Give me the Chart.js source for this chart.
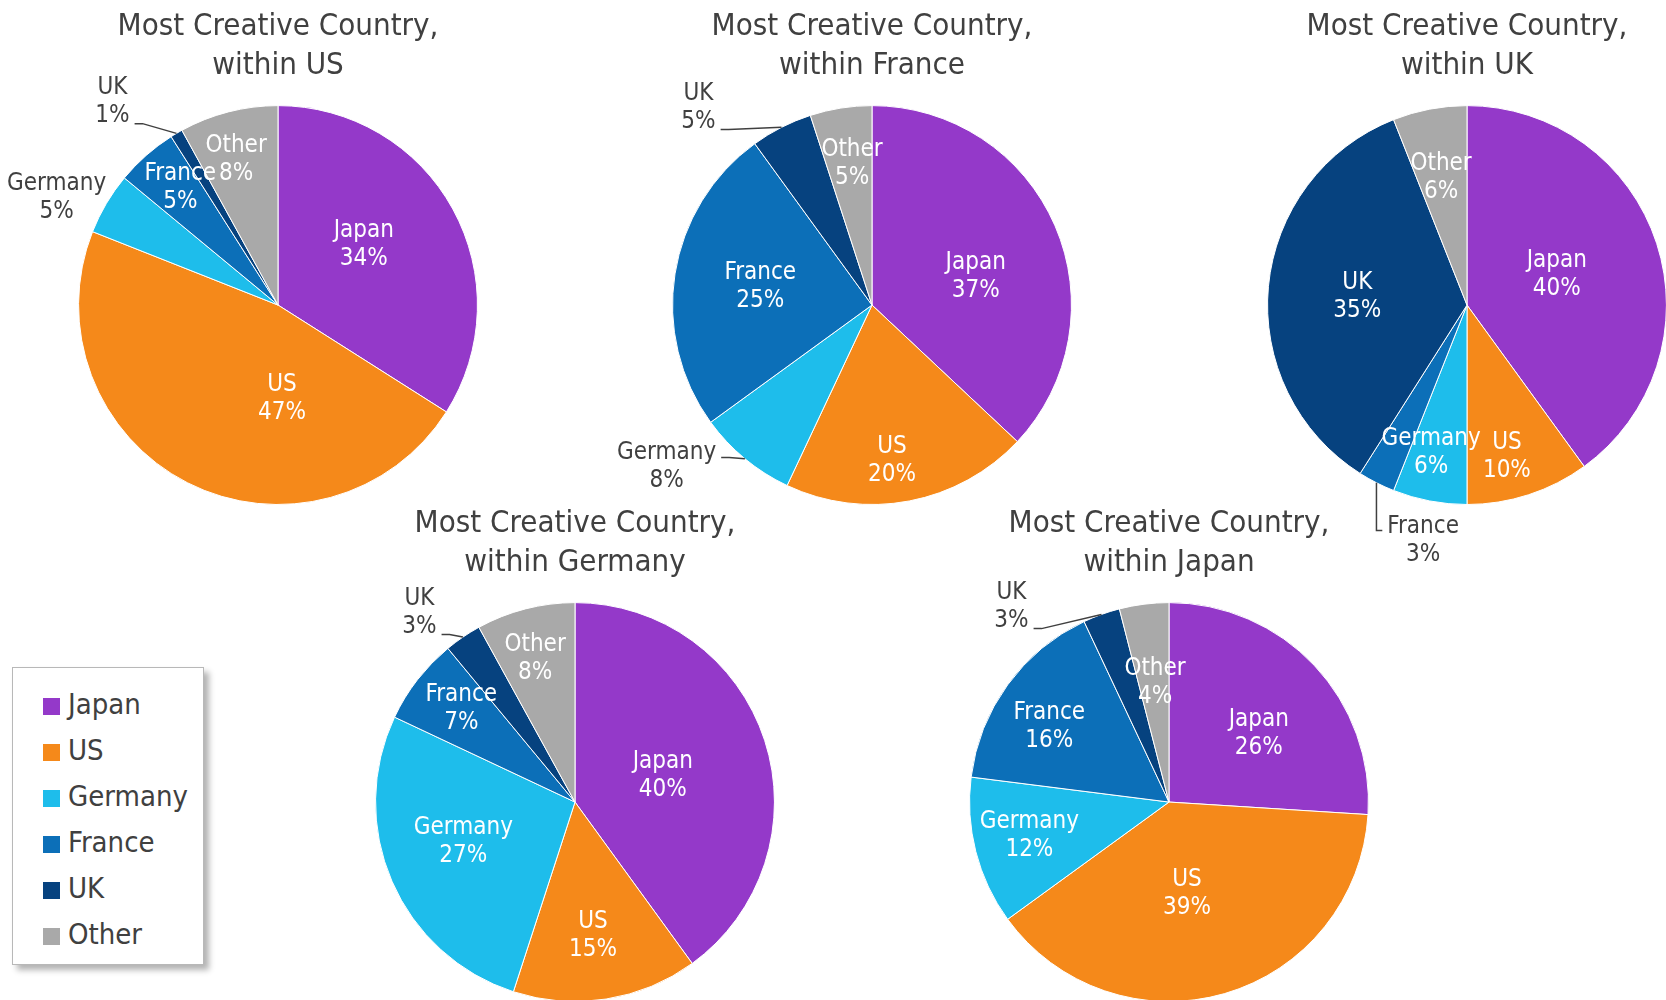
<!DOCTYPE html>
<html>
<head>
<meta charset="utf-8">
<script src="https://cdn.jsdelivr.net/npm/chart.js@4"></script>
<style>
  html, body { margin: 0; padding: 0; background: #fff; width: 1666px; height: 1000px; overflow: hidden; }
  .pie { position: absolute; }
  #legend {
    position: absolute; left: 12px; top: 667px; width: 192px; height: 298px;
    box-sizing: border-box; border: 1px solid #b8b8b8; background: #fff;
    box-shadow: 5px 5px 6px rgba(0, 0, 0, 0.3);
    font: 29px "DejaVu Sans Condensed", "DejaVu Sans", sans-serif; color: #404040;
  }
  .row { position: absolute; left: 30px; height: 46px; line-height: 46px; white-space: nowrap; }
  .row span { display: inline-block; width: 17px; height: 17px; margin-right: 8px; vertical-align: -1px; }
</style>
</head>
<body>
<canvas id="pieUS" class="pie" width="560" height="580" style="left:-2px;top:0px"></canvas>
<canvas id="pieFrance" class="pie" width="560" height="580" style="left:592px;top:0px"></canvas>
<canvas id="pieUK" class="pie" width="560" height="580" style="left:1187px;top:0px"></canvas>
<canvas id="pieGermany" class="pie" width="560" height="580" style="left:295px;top:497px"></canvas>
<canvas id="pieJapan" class="pie" width="560" height="580" style="left:889px;top:497px"></canvas>
<div id="legend"></div>
<script>
// answer categories, same order in every pie
const countries = ['Japan', 'US', 'Germany', 'France', 'UK', 'Other'];
const colors = ['#9439C9', '#F5891A', '#1EBDEB', '#0C6FB8', '#06427F', '#A9A9A9'];

// share of answers (%) among respondents of each country
const withinUS = [34, 47, 5, 5, 1, 8];
const withinFrance = [37, 20, 8, 25, 5, 5];
const withinUK = [40, 10, 6, 3, 35, 6];
const withinGermany = [40, 15, 27, 7, 3, 8];
const withinJapan = [26, 39, 12, 16, 3, 4];

const FONT = '"DejaVu Sans Condensed", "DejaVu Sans", sans-serif';

// label placement, offsets from pie centre in radii (copied from the excel layout)
const spotsUS = [[0.43, -0.30], [0.02, 0.47], [-1.11, -0.54], [-0.49, -0.59], [-0.83, -1.02], [-0.21, -0.73]];
const spotsFrance = [[0.52, -0.14], [0.10, 0.78], [-1.03, 0.81], [-0.56, -0.09], [-0.87, -0.99], [-0.10, -0.71]];
const spotsUK = [[0.45, -0.15], [0.20, 0.76], [-0.18, 0.74], [-0.22, 1.18], [-0.55, -0.04], [-0.13, -0.64]];
const spotsGermany = [[0.44, -0.13], [0.09, 0.67], [-0.56, 0.20], [-0.57, -0.47], [-0.78, -0.95], [-0.20, -0.72]];
const spotsJapan = [[0.45, -0.34], [0.09, 0.46], [-0.70, 0.17], [-0.60, -0.38], [-0.79, -0.98], [-0.07, -0.60]];

// labels sitting outside the pie: index -> leader line style ('' = no line)
const outsideUS = {2: '', 4: 'r2'};
const outsideFrance = {2: 'r1', 4: 'r2'};
const outsideUK = {3: 'l1'};
const outsideGermany = {4: 'r2'};
const outsideJapan = {4: 'r2'};

const sliceLabels = {
    id: 'sliceLabels',
    afterDatasetsDraw(chart, args, opts) {
        const ctx = chart.ctx;
        const meta = chart.getDatasetMeta(0);
        const values = chart.data.datasets[0].data;
        const lineH = 28;
        ctx.save();
        ctx.font = '24px ' + FONT;
        ctx.textAlign = 'center';
        ctx.textBaseline = 'middle';
        meta.data.forEach((arc, i) => {
            const p = arc.getProps(['x', 'y', 'outerRadius', 'startAngle', 'endAngle'], true);
            const lx = p.x + opts.spots[i][0] * p.outerRadius;
            const ly = p.y + opts.spots[i][1] * p.outerRadius;
            const line1 = chart.data.labels[i];
            const line2 = values[i] + '%';
            const y1 = ly - lineH / 2, y2 = ly + lineH / 2;
            const lead = opts.outside[i];
            ctx.fillStyle = lead === undefined ? '#ffffff' : '#404040';
            ctx.fillText(line1, lx, y1);
            ctx.fillText(line2, lx, y2);
            if (!lead) return;

            // leader line from the label to the middle of the slice edge
            const mid = (p.startAngle + p.endAngle) / 2;
            const ex = p.x + Math.cos(mid) * p.outerRadius;
            const ey = p.y + Math.sin(mid) * p.outerRadius;
            ctx.strokeStyle = '#404040';
            ctx.lineWidth = 1.5;
            ctx.beginPath();
            if (lead === 'l1') {
                const ax = lx - ctx.measureText(line1).width / 2 - 5, ay = y1 + 4;
                ctx.moveTo(ax, ay);
                ctx.lineTo(ex, ay);
            } else {
                const w = ctx.measureText(lead === 'r1' ? line1 : line2).width;
                const ax = lx + w / 2 + 5, ay = lead === 'r1' ? y1 + 5 : y2 + 8;
                ctx.moveTo(ax, ay);
                ctx.lineTo(ax + 8, ay);
            }
            ctx.lineTo(ex, ey);
            ctx.stroke();
        });
        ctx.restore();
    }
};

function makePie(id, name, values, spots, outside) {
    new Chart(document.getElementById(id), {
        type: 'pie',
        data: {
            labels: countries,
            datasets: [{
                data: values,
                backgroundColor: colors,
                borderColor: '#ffffff',
                borderWidth: 1,
                hoverOffset: 0
            }]
        },
        options: {
            responsive: false,
            animation: false,
            events: [],
            layout: { padding: { left: 80, right: 80, top: 0, bottom: 75 } },
            plugins: {
                legend: { display: false },
                tooltip: { enabled: false },
                title: {
                    display: true,
                    text: ['Most Creative Country,', 'within ' + name],
                    color: '#404040',
                    font: { family: FONT, size: 31, weight: 'normal', lineHeight: 1.26 },
                    padding: { top: 7, bottom: 20 }
                },
                sliceLabels: { spots: spots, outside: outside }
            }
        },
        plugins: [sliceLabels]
    });
}

makePie('pieUS', 'US', withinUS, spotsUS, outsideUS);
makePie('pieFrance', 'France', withinFrance, spotsFrance, outsideFrance);
makePie('pieUK', 'UK', withinUK, spotsUK, outsideUK);
makePie('pieGermany', 'Germany', withinGermany, spotsGermany, outsideGermany);
makePie('pieJapan', 'Japan', withinJapan, spotsJapan, outsideJapan);

// shared legend
const legend = document.getElementById('legend');
countries.forEach((c, i) => {
    const row = document.createElement('div');
    row.className = 'row';
    row.style.top = (13 + i * 46) + 'px';
    row.innerHTML = '<span style="background:' + colors[i] + '"></span>' + c;
    legend.appendChild(row);
});
</script>
</body>
</html>
